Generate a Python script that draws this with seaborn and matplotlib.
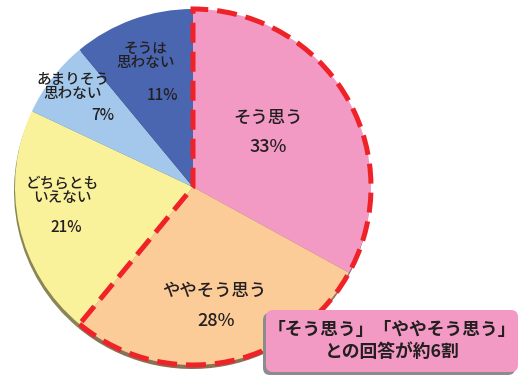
import matplotlib
matplotlib.use("Agg")
import matplotlib.pyplot as plt
import seaborn as sns
from matplotlib.patches import Wedge, FancyBboxPatch
import matplotlib.colors as mcolors

sns.set_theme(style="white")
plt.rcParams['font.family'] = ['Noto Sans CJK JP', 'DejaVu Sans']

# ---- data ----
categories = ["そう思う", "ややそう思う", "どちらとも\nいえない", "あまりそう\n思わない", "そうは\n思わない"]
values = [33, 28, 21, 7, 11]
pct_labels = ["33%", "28%", "21%", "7%", "11%"]
colors = ["#F39AC4", "#FBCB98", "#FAF19B", "#A3C8EB", "#4A66B0"]
highlight_n = 2  # first two categories highlighted
note_text = "「そう思う」「ややそう思う」\nとの回答が約6割"

W, H = 521, 376
fig = plt.figure(figsize=(W / 100, H / 100), dpi=100)
ax = fig.add_axes([0, 0, 1, 1])

cx, cy, R = 193, 189, 178

def darker(c, f=0.55):
    r, g, b = mcolors.to_rgb(c)
    return (r * f, g * f, b * f)

# shadow/edge pie
ax.pie(values, colors=[darker(c) for c in colors], startangle=90, counterclock=False,
       center=(cx - 1, cy - 4), radius=R, frame=True,
       wedgeprops=dict(linewidth=0))
# main pie
ax.pie(values, colors=colors, startangle=90, counterclock=False,
       center=(cx, cy), radius=R, frame=True,
       wedgeprops=dict(linewidth=0))

# highlighted dashed outline for first categories
total = sum(values)
end_angle = 90 - 360 * sum(values[:highlight_n]) / total
outline = Wedge((cx, cy), R, end_angle, 90, fill=False, edgecolor="#EE2227",
                linewidth=3.6, linestyle=(0, (4, 1.8)), zorder=5)
ax.add_patch(outline)

txt = "#231F20"
# label positions (pixel coords, y down)
label_pos = [(268, 118, 268, 147, 12.5),
             (214, 291, 216, 321, 12.5),
             (62, 191, 66, 227, 10.5),
             (73, 87, 103, 116, 10.5),
             (146, 56, 162, 95, 10.5)]
for cat, pct, (lx, ly, px, py, fs) in zip(categories, pct_labels, label_pos):
    ax.text(lx, H - ly, cat, ha="center", va="center", fontsize=fs, color=txt,
            linespacing=1.05, fontweight="medium", zorder=6)
    ax.text(px, H - py, pct, ha="center", va="center", fontsize=fs + 0.5, color=txt,
            fontweight="medium", zorder=6)

# annotation box
bx0, by0, bx1, by1 = 266, 310, 518, 372
shadow = FancyBboxPatch((bx0 - 3, H - by1 - 3), bx1 - bx0, by1 - by0,
                        boxstyle="round,pad=0,rounding_size=7",
                        facecolor="#8C8C8C", edgecolor="none", zorder=7)
box = FancyBboxPatch((bx0, H - by1), bx1 - bx0, by1 - by0,
                     boxstyle="round,pad=0,rounding_size=7",
                     facecolor="#F39AC4", edgecolor="none", zorder=8)
ax.add_patch(shadow)
ax.add_patch(box)
ax.text((bx0 + bx1) / 2, H - (by0 + by1) / 2, note_text, ha="center", va="center",
        fontsize=12.8, fontweight="bold", color="#231F20", linespacing=1.3, zorder=9)

ax.set_xlim(0, W)
ax.set_ylim(0, H)
ax.set_aspect("auto")
ax.axis("off")
fig.savefig("out.png", dpi=100, facecolor="white")
